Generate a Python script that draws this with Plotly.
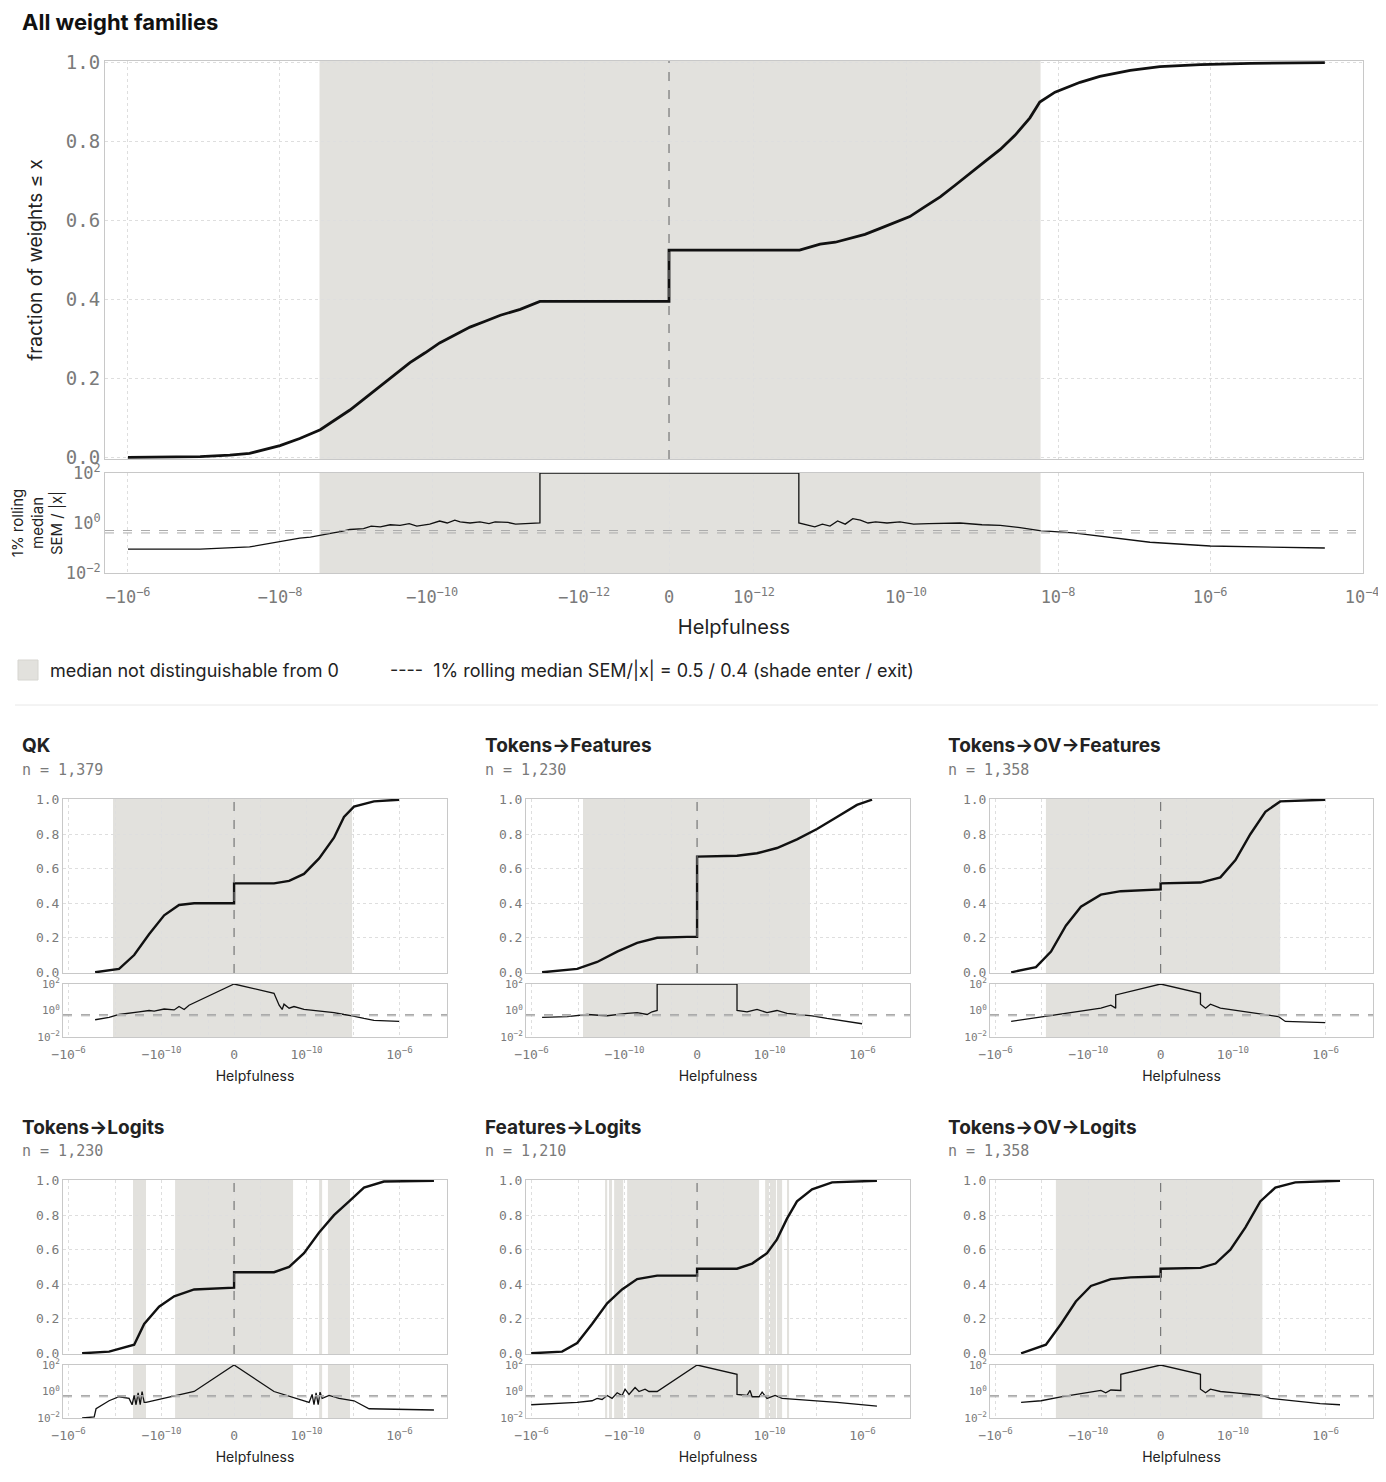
import math
import plotly.graph_objects as go

# ---- data: helpfulness given as signed log-magnitude m  (m=-7.1 -> -10^-7.1 ; m=+8.2 -> +10^-8.2 ; 0 -> 0)
all_x = [-6.0,-6.95,-7.34,-7.6,-8.0,-8.26,-8.53,-8.72,-8.92,-9.12,-9.32,-9.51,-9.71,-9.91,-10.1,-10.3,-10.5,-10.7,-10.9,-11.16,-11.42,0,0,
         11.4,11.13,10.93,10.74,10.54,10.34,9.95,9.75,9.55,9.35,9.16,8.96,8.76,8.57,8.37,8.24,8.04,7.71,7.45,7.05,6.66,6.13,5.47,4.49]
all_y = [0,.002,.006,.01,.03,.048,.07,.095,.12,.15,.18,.21,.24,.265,.29,.31,.33,.345,.36,.375,.395,.395,.525,
         .525,.54,.545,.555,.565,.58,.61,.635,.66,.69,.72,.75,.78,.815,.86,.9,.925,.95,.965,.98,.99,.995,.998,1.0]
all_sem_x = [-6.0,-6.95,-7.6,-8.0,-8.13,-8.26,-8.4,-8.53,-8.7,-8.8,-8.92,-9.1,-9.2,-9.32,-9.45,-9.58,-9.7,-9.8,-9.97,-10.1,-10.2,-10.3,-10.37,-10.5,-10.63,-10.75,-10.83,-11.0,-11.1,-11.42,-11.42,
             11.41,11.41,11.2,11.1,11.0,10.9,10.8,10.7,10.6,10.5,10.4,10.25,10.08,9.9,9.7,9.5,9.29,9.0,8.76,8.5,8.24,7.8,7.45,6.79,6.0,4.49]
all_sem_y = [0.09,0.09,0.11,0.18,0.2,0.25,0.27,0.33,0.4,0.45,0.55,0.6,0.75,0.7,0.85,0.8,0.95,0.75,0.9,1.2,1.0,1.3,1.1,1.0,1.1,0.95,1.1,1.05,0.9,1.0,100,
             100,1.0,0.7,0.9,0.75,1.2,0.9,1.5,1.3,1.0,1.1,1.0,1.1,0.9,0.95,1.0,1.0,0.85,0.8,0.65,0.5,0.4,0.3,0.17,0.12,0.1]
all_shade = [(-8.52, 8.23)]

qk_x = [-7.14,-8.17,-8.82,-9.46,-10.11,-10.75,-11.40,0,0,11.40,10.75,10.11,9.46,8.82,8.39,7.96,7.10,6.02]
qk_y = [0,.02,.10,.22,.33,.39,.40,.40,.515,.515,.53,.57,.66,.78,.90,.96,.99,1.0]
qk_sem_x = [-7.14,-7.74,-8.17,-8.60,-9.03,-9.46,-9.68,-10.11,-10.54,-10.75,-10.97,-11.18,0,11.40,11.18,11.05,10.97,10.75,10.54,10.11,9.68,9.25,8.82,8.39,8.04,7.53,7.10,6.02]
qk_sem_y = [.2,.3,.5,.6,.8,1.0,.9,1.3,1.1,2.0,1.2,2.5,100,20,2.5,1.2,3,1.5,2,1.2,1.0,.8,.7,.5,.4,.25,.18,.15]
qk_shade = [(-7.91, 8.04)]

tf_x = [-6.45,-7.96,-8.82,-9.68,-10.54,-11.40,-12.69,0,0,11.40,10.54,9.68,8.82,7.96,7.10,6.24,5.59]
tf_y = [0,.02,.06,.12,.17,.2,.205,.205,.67,.675,.69,.72,.77,.83,.9,.97,1.0]
tf_sem_x = [-6.45,-7.53,-8.39,-9.25,-10.11,-10.54,-10.97,-11.18,-11.40,-11.40,11.40,11.40,10.97,10.54,10.11,9.68,9.25,8.82,8.17,7.53,6.67,6.02]
tf_sem_y = [.3,.35,.5,.4,.6,.7,.5,.8,1.0,100,100,1.0,.8,1.2,.7,1.0,.6,.5,.4,.25,.15,.1]
tf_shade = [(-8.21, 8.26)]

tof_x = [-6.67,-7.74,-8.39,-9.03,-9.68,-10.54,-11.40,0,0,11.40,10.54,9.89,9.25,8.60,7.96,6.02]
tof_y = [0,.03,.12,.27,.38,.45,.47,.48,.515,.52,.55,.65,.80,.93,.99,1.0]
tof_sem_x = [-6.67,-7.53,-8.17,-8.82,-9.46,-10.11,-10.54,-10.97,-11.18,-11.18,0,11.40,11.40,11.18,10.97,10.54,9.89,9.25,8.60,8.04,7.74,6.02]
tof_sem_y = [.15,.25,.4,.6,.8,1.2,1.5,2.5,1.5,15,100,20,3,1.5,3,1.5,1.0,.7,.5,.35,.15,.12]
tof_shade = [(-8.17, 7.96)]

tl_x = [-6.58,-7.74,-8.82,-9.25,-9.89,-10.54,-11.40,0,0,11.40,10.75,10.11,9.46,8.82,8.17,7.53,6.67,4.52]
tl_y = [0,.01,.05,.17,.27,.33,.37,.38,.47,.47,.50,.58,.70,.80,.88,.96,.995,1.0]
tl_sem_x = [-6.58,-7.10,-7.18,-7.74,-8.17,-8.60,-8.73,-8.82,-8.90,-8.99,-9.08,-9.16,-9.25,-9.33,-11.40,0,11.40,9.89,9.76,9.68,9.59,9.50,9.42,9.33,9.03,8.60,7.96,7.31,4.52]
tl_sem_y = [.01,.012,.05,.2,.4,.3,.1,.5,.1,.8,.1,1.0,.15,.15,1.0,100,1.0,.15,.6,.1,.8,.1,.9,.3,.5,.3,.2,.05,.04]
tl_shade = [(-8.77,-9.33),(-10.58,10.58),(9.46,9.33),(9.08,8.13)]

fl_x = [-5.98,-7.31,-7.96,-8.60,-9.25,-9.89,-10.54,-11.40,0,0,11.40,10.75,10.11,9.68,9.25,8.82,8.17,7.31,5.38]
fl_y = [0,.01,.06,.17,.29,.37,.43,.45,.45,.49,.49,.52,.58,.66,.78,.88,.95,.99,1.0]
fl_sem_x = [-5.98,-7.10,-7.96,-8.60,-8.82,-9.03,-9.25,-9.46,-9.68,-9.89,-10.02,-10.19,-10.45,-10.62,-10.88,-11.05,-11.40,0,11.40,11.40,10.97,10.84,10.75,10.45,10.32,10.11,9.76,9.46,8.82,7.96,7.10,5.38]
fl_sem_y = [.1,.12,.15,.2,.3,.25,.5,.3,.8,.5,1.5,.6,2.0,1.0,1.5,1.0,1.0,100,20,.6,.5,1.2,.4,.4,.9,.3,.5,.3,.25,.2,.15,.08]
fl_shade = [(-9.16,-9.25),(-9.33,-9.46),(-9.55,-9.94),(-10.11,10.45),(10.19,10.02),(9.98,9.72),(9.68,9.46),(9.25,9.16)]

tol_x = [-7.10,-8.17,-8.82,-9.46,-10.11,-10.97,-11.83,0,0,11.40,10.75,10.11,9.46,8.82,8.17,7.31,5.38]
tol_y = [0,.05,.17,.3,.39,.43,.44,.445,.49,.495,.52,.6,.73,.88,.96,.99,1.0]
tol_sem_x = [-7.10,-7.96,-8.82,-9.46,-10.11,-10.54,-10.75,-10.97,-11.40,-11.40,0,11.40,11.40,11.18,10.97,10.54,9.89,9.25,8.73,8.39,7.53,6.24,5.38]
tol_sem_y = [.15,.2,.4,.6,.9,1.2,.8,1.3,1.2,20,100,20,1.5,.8,1.5,1.0,.8,.6,.5,.3,.2,.12,.1]
tol_shade = [(-8.60, 8.73)]

panels = [
    ("QK", "n = 1,379", qk_x, qk_y, qk_sem_x, qk_sem_y, qk_shade),
    ("Tokens→Features", "n = 1,230", tf_x, tf_y, tf_sem_x, tf_sem_y, tf_shade),
    ("Tokens→OV→Features", "n = 1,358", tof_x, tof_y, tof_sem_x, tof_sem_y, tof_shade),
    ("Tokens→Logits", "n = 1,230", tl_x, tl_y, tl_sem_x, tl_sem_y, tl_shade),
    ("Features→Logits", "n = 1,210", fl_x, fl_y, fl_sem_x, fl_sem_y, fl_shade),
    ("Tokens→OV→Logits", "n = 1,358", tol_x, tol_y, tol_sem_x, tol_sem_y, tol_shade),
]

C = 13.118  # symlog offset (decades)
def helpful(m):
    return 0.0 if m == 0 else math.copysign(10 ** (-abs(m)), m)
def sym(h):
    if h == 0: return 0.0
    return math.copysign(max(0.0, math.log10(abs(h)) + C), h)
def U(ms):
    return [sym(helpful(m)) for m in ms]

W, H = 1386, 1482
OFF = 8  # page body margin
def px(a): return (a - OFF) / W
def py(a): return 1 - (a - OFF) / H
def dx(a, b): return [px(a), px(b)]
def dy(t, b): return [py(b), py(t)]

MONO = "DejaVu Sans Mono"
SANS = "Inter"
GRAY = "#7a7a7a"
SHADE = "#e2e1dd"
fig = go.Figure()
layout = {}

def tlabel(h):
    if h == 0: return "0"
    e = int(round(math.log10(abs(h))))
    s = "−" if h < 0 else ""
    return f"{s}10<sup>{'−' if e < 0 else ''}{abs(e)}</sup>"

main_ticks = [-1e-6, -1e-8, -1e-10, -1e-12, 0, 1e-12, 1e-10, 1e-8, 1e-6, 1e-4]
small_ticks = [-1e-6, -1e-10, 0, 1e-10, 1e-6]
small_grid = [-1e-6, -1e-8, -1e-10, -1e-12, 0, 1e-12, 1e-10, 1e-8, 1e-6]

specs = [("main", [105, 1363], [61, 459], [473, 573], [-7.42, 9.13], main_ticks, main_ticks, 17, all_x, all_y, all_sem_x, all_sem_y, all_shade)]
cols = [[63, 447], [526, 910], [990, 1373]]
rows = [([799, 973], [984, 1037]), ([1180, 1354], [1365, 1418])]
for i, p in enumerate(panels):
    c = cols[i % 3]; r = rows[i // 3]
    specs.append((p[0], c, r[0], r[1], [-7.36, 9.16], small_ticks, small_grid, 13, p[2], p[3], p[4], p[5], p[6]))

shapes = []
for k, (name, xd, ytop, ysem, xr, ticks, grid, fs, cx, cy, sx, sy, shade) in enumerate(specs):
    a1 = 2 * k + 1; a2 = 2 * k + 2
    n1 = "" if a1 == 1 else str(a1); n2 = str(a2)
    lw = 2.8 if k == 0 else 2.4
    fig.add_trace(go.Scatter(x=U(cx), y=cy, mode="lines", line=dict(color="#111", width=lw),
                             xaxis="x" + n1, yaxis="y" + n1, showlegend=False, hoverinfo="skip"))
    fig.add_trace(go.Scatter(x=U(sx), y=sy, mode="lines", line=dict(color="#111", width=1.3),
                             xaxis="x" + n2, yaxis="y" + n2, showlegend=False, hoverinfo="skip"))
    tv = [sym(t) for t in ticks]; gv = [sym(t) for t in grid]
    common = dict(range=xr, showline=True, linecolor="#c8c8c8", mirror=True, zeroline=False,
                  showgrid=False, ticks="", automargin=False,
                  minor=dict(tickvals=gv, showgrid=True, gridcolor="#dedede", griddash="dot", ticks=""))
    layout["xaxis" + n1] = dict(domain=dx(*xd), anchor="y" + n1, showticklabels=False, tickvals=tv, **common)
    layout["xaxis" + n2] = dict(domain=dx(*xd), anchor="y" + n2, tickvals=tv, ticktext=[tlabel(t) for t in ticks],
                                tickfont=dict(family=MONO, size=fs, color=GRAY),
                                ticklabelstandoff=9 if k == 0 else 5,
                                title=dict(text="Helpfulness", font=dict(family=SANS, size=20 if k == 0 else 14, color="#222"),
                                           standoff=13 if k == 0 else 10), **common)
    layout["yaxis" + n1] = dict(domain=dy(*ytop), anchor="x" + n1, range=[-0.004, 1.004], automargin=False,
                                tickvals=[0, .2, .4, .6, .8, 1.0], ticktext=["0.0", "0.2", "0.4", "0.6", "0.8", "1.0"],
                                tickfont=dict(family=MONO, size=fs + 2 if k == 0 else fs, color=GRAY),
                                showline=True, linecolor="#c8c8c8", mirror=True, zeroline=False,
                                gridcolor="#dedede", griddash="dot", ticks="")
    layout["yaxis" + n2] = dict(domain=dy(*ysem), anchor="x" + n2, type="log", range=[-2, 2], automargin=False,
                                tickvals=[0.01, 1, 100], ticktext=["10<sup>−2</sup>", "10<sup>0</sup>", "10<sup>2</sup>"],
                                tickfont=dict(family=MONO, size=fs if k == 0 else fs - 2, color=GRAY),
                                showline=True, linecolor="#c8c8c8", mirror=True, zeroline=False,
                                gridcolor="#dedede", griddash="dot", ticks="", showgrid=False)
    if k == 0:
        layout["yaxis"]["title"] = dict(text="fraction of weights ≤ x", font=dict(family=SANS, size=19, color="#222"), standoff=18)
        layout["yaxis2"]["title"] = dict(text="1% rolling<br>median<br>SEM / |x|", font=dict(family=SANS, size=15, color="#222"), standoff=4)
    for (m0, m1) in shade:
        for n in (n1, n2):
            shapes.append(dict(type="rect", xref="x" + n, yref=("y" + n + " domain"), x0=sym(helpful(m0)), x1=sym(helpful(m1)),
                               y0=0, y1=1, fillcolor=SHADE, line=dict(width=0), layer="below"))
    shapes.append(dict(type="line", xref="x" + n1, yref="y" + n1 + " domain", x0=0, x1=0, y0=0, y1=1,
                       line=dict(color="#777", width=1.2, dash="dash")))
    for v in (0.5, 0.4):
        shapes.append(dict(type="line", xref="x" + n2 + " domain", yref="y" + n2, x0=0, x1=1, y0=v, y1=v,
                           line=dict(color="#aaa", width=1, dash="dash")))

def note(text, x, y, font):
    return dict(text=text, x=px(x), y=py(y), xref="paper", yref="paper", xanchor="left", yanchor="middle",
                showarrow=False, font=font)

annotations = [note("<b>All weight families</b>", 20, 22, dict(family=SANS, size=22, color="#111")),
               note("median not distinguishable from 0", 48, 670, dict(family=SANS, size=18, color="#222")),
               note("----  1% rolling median SEM/|x| = 0.5 / 0.4 (shade enter / exit)", 388, 670,
                    dict(family=SANS, size=18, color="#222"))]
shapes.append(dict(type="rect", xref="paper", yref="paper", x0=px(18), x1=px(38), y0=py(680), y1=py(660),
                   fillcolor=SHADE, line=dict(color="#d6d5d0", width=1)))
shapes.append(dict(type="line", xref="paper", yref="paper", x0=px(15), x1=px(1384), y0=py(705), y1=py(705),
                   line=dict(color="#e8e8e8", width=1)))
tx = [20, 483, 946]
for i, p in enumerate(panels):
    ty = 746 if i < 3 else 1127
    annotations.append(note(f"<b>{p[0]}</b>", tx[i % 3], ty, dict(family=SANS, size=19, color="#222")))
    annotations.append(note(p[1], tx[i % 3], ty + 24, dict(family=MONO, size=15, color=GRAY)))

fig.update_layout(width=W, height=H, margin=dict(l=0, r=0, t=0, b=0), plot_bgcolor="white", paper_bgcolor="white",
                  shapes=shapes, annotations=annotations, showlegend=False, **layout)
fig.write_html("out.html")
